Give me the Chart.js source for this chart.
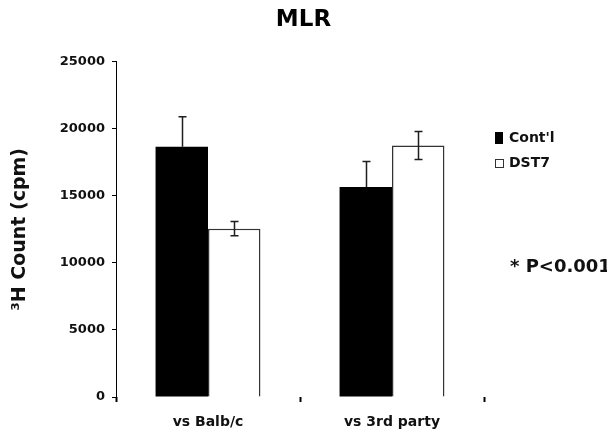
<!DOCTYPE html>
<html><head><meta charset="utf-8">
<script src="https://cdn.jsdelivr.net/npm/chart.js@4.4.0/dist/chart.umd.min.js"></script>
<style>html,body{margin:0;padding:0;background:#fff;overflow:hidden}#wrap{width:607px;height:435px;position:relative}</style>
</head><body><div id="wrap"><canvas id="c" width="607" height="435"></canvas></div>
<script>
const categories = ['vs Balb/c', 'vs 3rd party'];
const seriesNames = ["Cont'l", 'DST7'];
const contlValues = [18650, 15650];
const contlErrors = [2230, 1910];
const dst7Values = [12550, 18750];
const dst7Errors = [540, 1040];
const yTicks = [0, 5000, 10000, 15000, 20000, 25000];
const titleText = 'MLR';
const yTitleText = '\u00B3H Count (cpm)';
const noteText = '* P<0.001';

const FAM = "'DejaVu Sans', sans-serif";

const errorBarPlugin = {
  id: 'errorBars',
  afterDatasetsDraw(chart) {
    const ctx = chart.ctx;
    const ys = chart.scales.y;
    chart.data.datasets.forEach((ds, i) => {
      const meta = chart.getDatasetMeta(i);
      const darkBar = ds.backgroundColor === '#000';
      meta.data.forEach((el, j) => {
        const v = ds.data[j], e = ds.errors[j];
        const x = Math.round(el.x) + 0.5;
        const yt = ys.getPixelForValue(v + e);
        const yv = ys.getPixelForValue(v);
        const yb = ys.getPixelForValue(v - e);
        ctx.save();
        ctx.strokeStyle = '#1e1e1e';
        ctx.lineWidth = 1.5;
        ctx.beginPath();
        ctx.moveTo(x, yt); ctx.lineTo(x, darkBar ? yv : yb);
        ctx.moveTo(x - 4, yt); ctx.lineTo(x + 4, yt);
        if (!darkBar) { ctx.moveTo(x - 4, yb); ctx.lineTo(x + 4, yb); }
        ctx.stroke();
        ctx.restore();
      });
    });
  }
};

const extrasPlugin = {
  id: 'extras',
  afterDraw(chart) {
    const ctx = chart.ctx;
    ctx.save();
    ctx.font = 'bold 14px ' + FAM;
    ctx.textBaseline = 'middle';
    ctx.textAlign = 'left';
    const items = chart.data.datasets;
    const boxes = [{x:495, y:132, w:8, h:12}, {x:495.5, y:159.5, w:8, h:8}];
    const textY = [138, 163];
    items.forEach((ds, i) => {
      const b = boxes[i];
      ctx.fillStyle = ds.backgroundColor;
      ctx.fillRect(b.x, b.y, b.w, b.h);
      if (ds.borderWidth) {
        ctx.strokeStyle = ds.borderColor; ctx.lineWidth = 1;
        ctx.strokeRect(b.x, b.y, b.w, b.h);
      }
      ctx.fillStyle = '#111';
      ctx.fillText(ds.label, 509, textY[i]);
    });
    ctx.font = 'bold 18px ' + FAM;
    ctx.fillStyle = '#111';
    ctx.fillText(noteText, 510, 267);
    ctx.restore();
  }
};

new Chart(document.getElementById('c'), {
  type: 'bar',
  data: {
    labels: categories,
    datasets: [
      { label: seriesNames[0], data: contlValues, errors: contlErrors, backgroundColor: '#000', borderColor: '#000', borderWidth: 0 },
      { label: seriesNames[1], data: dst7Values, errors: dst7Errors, backgroundColor: '#fff', borderColor: '#333', borderWidth: 1.5 }
    ]
  },
  options: {
    responsive: false,
    animation: false,
    devicePixelRatio: 1,
    barPercentage: 1,
    categoryPercentage: 0.57,
    layout: { padding: { top: 0, right: 0, bottom: 0, left: 0 } },
    plugins: {
      legend: { display: false },
      tooltip: { enabled: false },
      title: { display: true, text: titleText, color: '#000', font: { family: FAM, size: 23, weight: 'bold' }, padding: { top: 6, bottom: 28 } }
    },
    scales: {
      x: {
        afterFit: (s) => { s.height = 38; },
        grid: { display: true, drawOnChartArea: false, drawTicks: true, tickLength: 5, tickWidth: 2, color: '#000', offset: true },
        border: { display: false },
        ticks: { color: '#111', font: { family: FAM, size: 14, weight: 'bold' }, padding: 12 }
      },
      y: {
        min: 0, max: 25000,
        afterBuildTicks: (s) => { s.ticks = yTicks.map(v => ({ value: v })); },
        afterFit: (s) => { s.width = 116; },
        ticks: { color: '#111', font: { family: FAM, size: 13, weight: 'bold' }, padding: 7, callback: (v) => String(v) },
        grid: { display: true, drawOnChartArea: false, drawTicks: true, tickLength: 4, color: '#000' },
        border: { display: true, color: '#000', width: 1 },
        title: { display: true, text: yTitleText, color: '#111', font: { family: FAM, size: 19, weight: 'bold' }, padding: { top: 9, bottom: 0 } }
      },
      yRight: {
        type: 'linear', position: 'right', display: true,
        afterFit: (s) => { s.width = 123; },
        grid: { display: false, drawTicks: false },
        border: { display: false },
        ticks: { display: false }
      }
    }
  },
  plugins: [errorBarPlugin, extrasPlugin]
});
</script></body></html>
